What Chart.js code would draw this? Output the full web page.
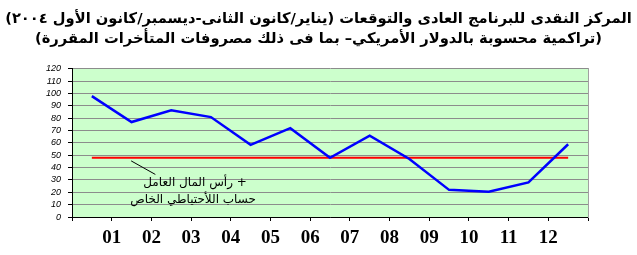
<!DOCTYPE html>
<html>
<head>
<meta charset="utf-8">
<script src="https://cdn.jsdelivr.net/npm/chart.js@4.4.1/dist/chart.umd.min.js"></script>
<style>
  body { margin: 0; background: #fff; }
  #wrap { width: 637px; height: 255px; }
</style>
</head>
<body>
<div id="wrap"><canvas id="cashChart" width="637" height="255" dir="rtl"></canvas></div>
<script>
// Chart data
const titleLines = [
    'المركز النقدى للبرنامج العادى والتوقعات (يناير/كانون الثانى-ديسمبر/كانون الأول ٢٠٠٤)',
    '(تراكمية محسوبة بالدولار الأمريكي– بما فى ذلك مصروفات المتأخرات المقررة)'
];
const monthLabels = ['01', '02', '03', '04', '05', '06', '07', '08', '09', '10', '11', '12'];
const cashPosition = [98, 77, 86.5, 81, 58.5, 72, 48, 66, 47, 22, 20.5, 28, 59];
const reserveLevel = [48, 48, 48, 48, 48, 48, 48, 48, 48, 48, 48, 48, 48];
const noteLines = ['+ رأس المال العامل', 'حساب اللأحتياطي الخاص'];

// points sit in the middle of each period, month labels on the boundaries
const toPoints = values => values.map((v, i) => ({ x: i + 0.5, y: v }));

const plotBackground = {
    id: 'plotBackground',
    beforeDraw(chart) {
        const { ctx, chartArea: a } = chart;
        ctx.save();
        ctx.fillStyle = '#CCFFCC';
        ctx.fillRect(a.left, a.top, a.right - a.left, a.bottom - a.top);
        ctx.restore();
    }
};

const noteLabel = {
    id: 'noteLabel',
    afterDatasetsDraw(chart) {
        const { ctx, scales: { x, y } } = chart;
        ctx.save();
        // leader line
        ctx.strokeStyle = '#000';
        ctx.lineWidth = 1;
        ctx.beginPath();
        ctx.moveTo(x.getPixelForValue(1.49), y.getPixelForValue(45.5));
        ctx.lineTo(x.getPixelForValue(2.1), y.getPixelForValue(34.5));
        ctx.stroke();
        // text
        ctx.direction = 'rtl';
        ctx.fillStyle = '#000';
        ctx.textAlign = 'center';
        ctx.textBaseline = 'middle';
        ctx.font = '12px "DejaVu Sans"';
        ctx.fillText(noteLines[0], x.getPixelForValue(3.1), y.getPixelForValue(28));
        ctx.fillText(noteLines[1], x.getPixelForValue(3.05), y.getPixelForValue(14));
        ctx.restore();
    }
};

document.addEventListener('DOMContentLoaded', function() {
    const ctx = document.getElementById('cashChart').getContext('2d');
    new Chart(ctx, {
        type: 'line',
        data: {
            datasets: [{
                label: 'cash',
                data: toPoints(cashPosition),
                borderColor: '#0000FF',
                borderWidth: 2.5,
                pointRadius: 0,
                tension: 0
            }, {
                label: 'reserve',
                data: toPoints(reserveLevel),
                borderColor: '#FF0000',
                borderWidth: 2,
                pointRadius: 0,
                tension: 0
            }]
        },
        options: {
            responsive: false,
            devicePixelRatio: 1,
            animation: false,
            layout: { padding: 0 },
            plugins: {
                legend: { display: false },
                tooltip: { enabled: false },
                title: {
                    display: true,
                    text: titleLines,
                    color: '#000',
                    font: { family: '"DejaVu Sans"', size: 14.7, weight: 'bold', lineHeight: 1.36 },
                    padding: { top: 9, bottom: 20 }
                }
            },
            scales: {
                x: {
                    type: 'linear',
                    min: 0,
                    max: 13,
                    afterFit: s => { s.height = 38; },
                    afterBuildTicks: s => {
                        s.ticks = Array.from({ length: 14 }, (_, i) => ({ value: i }));
                    },
                    ticks: {
                        autoSkip: false,
                        maxRotation: 0,
                        padding: 6,
                        color: '#000',
                        font: { family: '"Liberation Serif"', size: 19, weight: 'bold' },
                        callback: v => monthLabels[v - 1] || ''
                    },
                    grid: { drawOnChartArea: false, tickLength: 4, color: '#000' },
                    border: { color: '#000', width: 1 }
                },
                y: {
                    min: 0,
                    max: 120,
                    afterFit: s => { s.width = 72; },
                    ticks: {
                        stepSize: 10,
                        autoSkip: false,
                        maxTicksLimit: 20,
                        padding: 7,
                        color: '#000',
                        font: { family: '"Liberation Sans"', size: 9, style: 'italic' }
                    },
                    grid: { color: '#8C8C8C', tickColor: '#000', tickLength: 4 },
                    border: { color: '#000', width: 1 }
                },
                yRight: {
                    position: 'right',
                    min: 0,
                    max: 120,
                    afterFit: s => { s.width = 49; },
                    ticks: { display: false },
                    grid: { drawOnChartArea: false, drawTicks: false },
                    border: { color: '#A0A0A0', width: 1 }
                }
            }
        },
        plugins: [plotBackground, noteLabel]
    });
});
</script>
</body>
</html>
